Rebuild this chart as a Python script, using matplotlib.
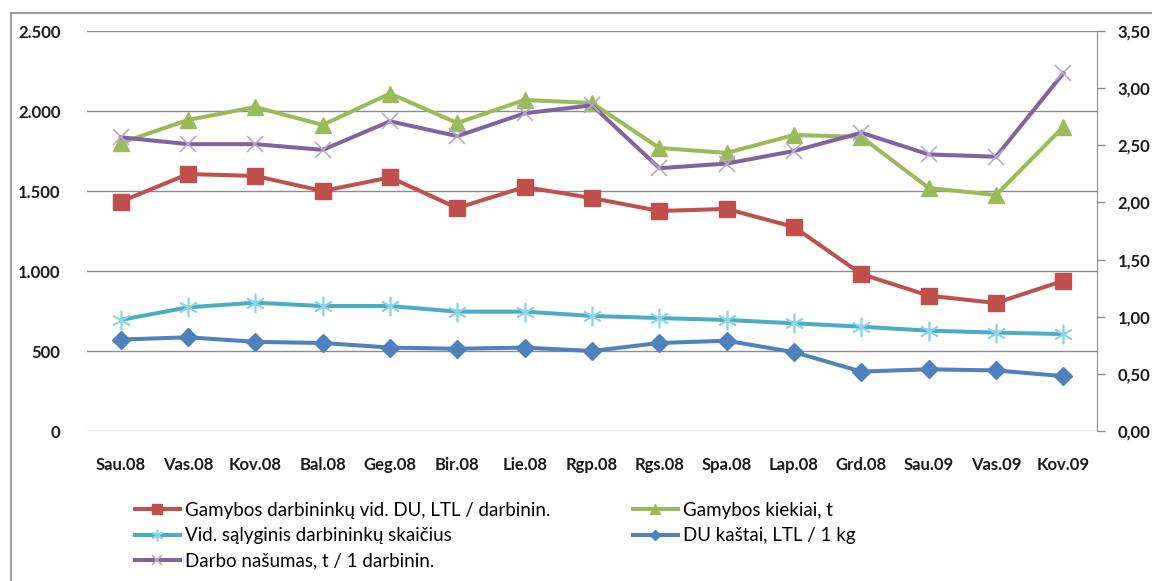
import matplotlib
matplotlib.use("Agg")
import matplotlib.pyplot as plt
from matplotlib.ticker import FuncFormatter, MultipleLocator
from matplotlib.lines import Line2D

months = ["Sau.08", "Vas.08", "Kov.08", "Bal.08", "Geg.08", "Bir.08", "Lie.08", "Rgp.08",
          "Rgs.08", "Spa.08", "Lap.08", "Grd.08", "Sau.09", "Vas.09", "Kov.09"]

# left axis series
vid_du = [1433, 1606, 1594, 1500, 1585, 1394, 1525, 1456, 1375, 1388, 1275, 981, 846, 800, 939]
kiekiai = [1800, 1944, 2025, 1913, 2109, 1925, 2069, 2050, 1769, 1738, 1850, 1838, 1519, 1475, 1900]
darbininkai = [694, 773, 802, 781, 781, 746, 746, 719, 706, 694, 673, 652, 627, 615, 606]

# right axis series
du_kastai = [0.80, 0.82, 0.78, 0.77, 0.73, 0.72, 0.73, 0.70, 0.77, 0.79, 0.69, 0.52, 0.54, 0.53, 0.48]
nasumas = [2.57, 2.51, 2.51, 2.46, 2.71, 2.58, 2.78, 2.85, 2.30, 2.34, 2.45, 2.61, 2.42, 2.40, 3.13]

plt.rcParams['font.family'] = ['Lato', 'DejaVu Sans']

fig = plt.figure(figsize=(11.52, 5.81), dpi=100)
ax = fig.add_axes([87/1152, 1 - 431/581, 1010/1152, 400/581])
ax2 = ax.twinx()

x = list(range(len(months)))
lw = 2.9

l_red, = ax.plot(x, vid_du, color="#C0504D", lw=lw, marker="s", ms=11,
                 mfc="#C0504D", mec="#C0504D", label="Gamybos darbininkų vid. DU, LTL / darbinin.")
l_green, = ax.plot(x, kiekiai, color="#9BBB59", lw=lw, marker="^", ms=12,
                   mfc="#9BBB59", mec="#9BBB59", label="Gamybos kiekiai, t")
l_cyan, = ax.plot(x, darbininkai, color="#4BACC6", lw=lw, marker=(6, 2, 0), ms=14,
                  mec="#8FD3E6", mew=1.2, label="Vid. sąlyginis darbininkų skaičius")
l_blue, = ax2.plot(x, du_kastai, color="#4F81BD", lw=lw, marker="D", ms=9,
                   mfc="#4F81BD", mec="#4F81BD", label="DU kaštai, LTL / 1 kg")
l_purple, = ax2.plot(x, nasumas, color="#8064A2", lw=lw, marker="x", ms=12,
                     mec="#B9A8D0", mew=1.2, label="Darbo našumas, t / 1 darbinin.")

ax.set_xlim(-0.5, len(months) - 0.5)
ax.set_ylim(0, 2500)
ax2.set_ylim(0, 3.5)
ax.yaxis.set_major_locator(MultipleLocator(500))
ax2.yaxis.set_major_locator(MultipleLocator(0.5))
ax.yaxis.set_major_formatter(FuncFormatter(lambda v, p: f"{int(v):,}".replace(",", ".")))
ax2.yaxis.set_major_formatter(FuncFormatter(lambda v, p: f"{v:.2f}".replace(".", ",")))

ax.grid(axis="y", color="#8C8C8C", lw=1.0)
ax.set_axisbelow(True)
ax.set_xticks(x)
ax.set_xticklabels(months)

for s in ["top", "left", "bottom", "right"]:
    ax.spines[s].set_visible(False)
    ax2.spines[s].set_visible(False)
ax2.spines["right"].set_visible(True)
ax2.spines["right"].set_color("#8C8C8C")

ax.tick_params(axis="x", length=0, pad=19)
ax.tick_params(axis="y", length=0, pad=19)
ax2.tick_params(axis="y", length=6, width=1, color="#8C8C8C", pad=9)
for lab in ax.get_xticklabels() + ax.get_yticklabels() + ax2.get_yticklabels():
    lab.set_fontsize(12)
    lab.set_fontweight("bold")
    lab.set_color("#1a1a1a")

handles = [l_red, l_cyan, l_purple, l_green, l_blue]
leg = fig.legend(handles=handles, labels=[h.get_label() for h in handles], ncol=2,
                 loc="upper left", bbox_to_anchor=(118/1152, 1 - 485/581),
                 frameon=False, fontsize=13.5, handlelength=2.4, handletextpad=0.27,
                 labelspacing=0.45, columnspacing=4.4, markerscale=0.6)

# chart frame
frame = dict(color="#8C8C8C", lw=1.2, transform=fig.transFigure)
fig.add_artist(Line2D([11/1152, 11/1152], [0, 1 - 13/581], **frame))
fig.add_artist(Line2D([11/1152, 1], [1 - 13/581, 1 - 13/581], **frame))

fig.savefig("out.png", dpi=100)
